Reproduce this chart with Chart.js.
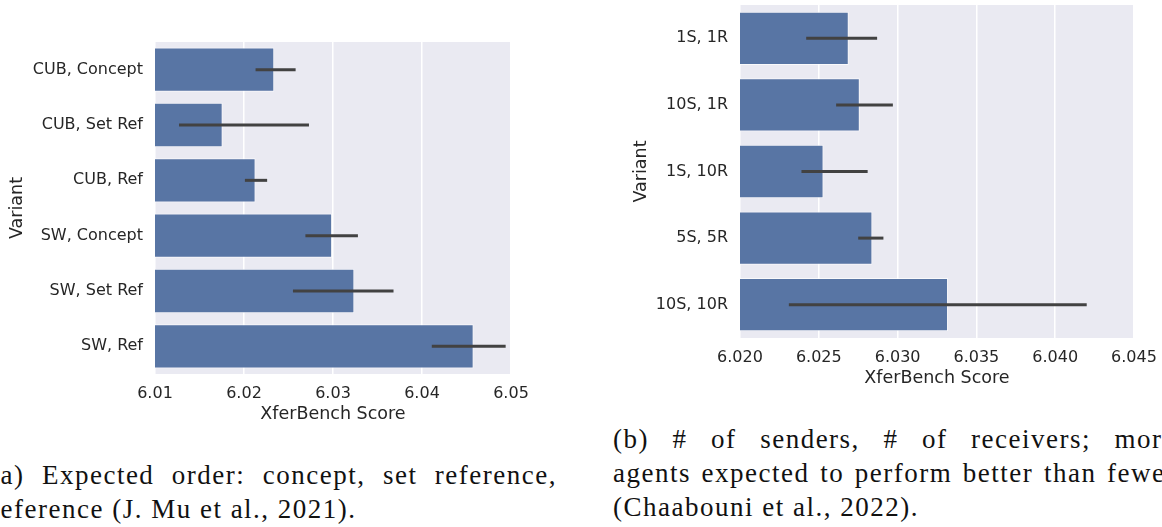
<!DOCTYPE html>
<html>
<head>
<meta charset="utf-8">
<script src="https://cdn.jsdelivr.net/npm/chart.js@4"></script>
<style>
  html, body {
    margin: 0;
    padding: 0;
    background: #ffffff;
  }
  body {
    position: relative;
    width: 1162px;
    height: 527px;
    overflow: hidden;
  }
  .panel {
    position: absolute;
    top: 0;
  }
  .caption {
    position: absolute;
    width: 563px;
    font-family: "Liberation Serif", serif;
    font-size: 27px;
    line-height: 34px;
    letter-spacing: 1.5px;
    color: #111111;
    white-space: nowrap;
  }
  .caption .full {
    text-align: justify;
    text-align-last: justify;
    white-space: normal;
  }
</style>
</head>
<body>
<div class="panel" style="left:0px;"><canvas id="chartA" width="580" height="430"></canvas></div>
<div class="panel" style="left:580px;"><canvas id="chartB" width="582" height="394"></canvas></div>

<div class="caption" style="left:-10px; top:458px; width:567px;">
  <div class="full">(a) Expected order: concept, set reference,</div>
  <div>reference (J. Mu et al., 2021).</div>
</div>
<div class="caption" style="left:613px; top:422px;">
  <div class="full">(b) # of senders, # of receivers; more</div>
  <div class="full">agents expected to perform better than fewer</div>
  <div>(Chaabouni et al., 2022).</div>
</div>

<script>
// (a) concept / set reference / reference
const variantsA = ["CUB, Concept", "CUB, Set Ref", "CUB, Ref", "SW, Concept", "SW, Set Ref", "SW, Ref"];
const scoresA = [6.0234, 6.0176, 6.0213, 6.0299, 6.0324, 6.0458];
const ciLowA = [6.0213, 6.0127, 6.0201, 6.0269, 6.0255, 6.0411];
const ciHighA = [6.0258, 6.0273, 6.0226, 6.0328, 6.0368, 6.0494];
const ticksA = [6.01, 6.02, 6.03, 6.04, 6.05];

// (b) senders / receivers
const variantsB = ["1S, 1R", "10S, 1R", "1S, 10R", "5S, 5R", "10S, 10R"];
const scoresB = [6.0269, 6.0276, 6.0253, 6.0284, 6.0332];
const ciLowB = [6.0242, 6.0261, 6.0239, 6.0275, 6.0231];
const ciHighB = [6.0287, 6.0297, 6.0281, 6.0291, 6.0420];
const ticksB = [6.02, 6.025, 6.03, 6.035, 6.04, 6.045];

const textColor = "#262626";
const fontFamily = "'DejaVu Sans', sans-serif";

const plotBackground = {
  id: "plotBackground",
  beforeDraw(chart) {
    const { ctx, chartArea } = chart;
    ctx.save();
    ctx.fillStyle = "#eaeaf2";
    ctx.fillRect(chartArea.left, chartArea.top, chartArea.right - chartArea.left, chartArea.bottom - chartArea.top);
    ctx.restore();
  },
};

const errorBars = {
  id: "errorBars",
  afterDatasetsDraw(chart, args, opts) {
    const { ctx } = chart;
    const x = chart.scales.x;
    const y = chart.scales.y;
    ctx.save();
    ctx.strokeStyle = "#424242";
    ctx.lineWidth = 3;
    ctx.lineCap = "butt";
    opts.low.forEach((lo, i) => {
      const py = y.getPixelForValue(i);
      ctx.beginPath();
      ctx.moveTo(x.getPixelForValue(lo), py);
      ctx.lineTo(x.getPixelForValue(opts.high[i]), py);
      ctx.stroke();
    });
    ctx.restore();
  },
};

// no extra room for half-labels, the padding below places the plot
function noLabelPadding(scale) {
  scale.paddingTop = 0;
  scale.paddingBottom = 0;
  scale.paddingLeft = 0;
  scale.paddingRight = 0;
}

function makeChart(id, labels, scores, lows, highs, ticks, decimals, pad, yWidth, yTitlePad) {
  return new Chart(document.getElementById(id), {
    type: "bar",
    plugins: [plotBackground, errorBars],
    data: {
      labels: labels,
      datasets: [
        {
          label: "XferBench Score",
          data: scores,
          backgroundColor: "#5875a4",
          borderColor: "rgba(255,255,255,0.7)",
          borderWidth: 1,
          borderSkipped: false,
          categoryPercentage: 0.8,
          barPercentage: 1.0,
        },
      ],
    },
    options: {
      indexAxis: "y",
      responsive: false,
      animation: false,
      events: [],
      layout: {
        padding: pad,
      },
      plugins: {
        legend: { display: false },
        tooltip: { enabled: false },
        errorBars: { low: lows, high: highs },
      },
      scales: {
        x: {
          type: "linear",
          min: ticks[0],
          max: ticks[ticks.length - 1],
          afterBuildTicks: (scale) => {
            scale.ticks = ticks.map((v) => ({ value: v }));
          },
          afterFit: (scale) => {
            scale.height = 56;
            noLabelPadding(scale);
          },
          border: { display: false },
          grid: {
            color: "#ffffff",
            lineWidth: 1.5,
            drawTicks: false,
          },
          ticks: {
            color: textColor,
            font: { family: fontFamily, size: 16 },
            padding: 10,
            maxRotation: 0,
            autoSkip: false,
            callback: (v) => Number(v).toFixed(decimals),
          },
          title: {
            display: true,
            text: "XferBench Score",
            color: textColor,
            font: { family: fontFamily, size: 17.5 },
            padding: { top: 0, bottom: 5.5 },
          },
        },
        y: {
          afterFit: (scale) => {
            scale.width = yWidth;
            noLabelPadding(scale);
          },
          border: { display: false },
          grid: { display: false, drawTicks: false },
          ticks: {
            color: textColor,
            font: { family: fontFamily, size: 16 },
            padding: 12,
          },
          title: {
            display: true,
            text: "Variant",
            color: textColor,
            font: { family: fontFamily, size: 17.5 },
            padding: { top: yTitlePad, bottom: 0 },
          },
        },
      },
    },
  });
}

makeChart("chartA", variantsA, scoresA, ciLowA, ciHighA, ticksA, 2,
  { top: 42, right: 69, left: 0, bottom: 0 }, 155, 6.5);

makeChart("chartB", variantsB, scoresB, ciLowB, ciHighB, ticksB, 3,
  { top: 5, right: 28, left: 0, bottom: 0 }, 160, 50.5);
</script>
</body>
</html>
